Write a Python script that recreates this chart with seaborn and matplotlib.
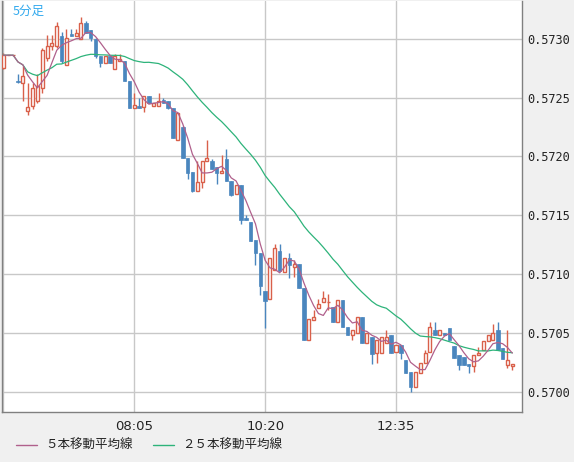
import numpy as np
import pandas as pd
import matplotlib
matplotlib.use("Agg")
import matplotlib.pyplot as plt
import seaborn as sns
from matplotlib.lines import Line2D

opens = [.57275,.57286,.57286,.57264,.57262,.57239,.57243,.57247,.57258,.57284,
         .57294,.57294,.57302,.57278,.57304,.57302,.57300,.57313,.57307,.57300,
         .57285,.57279,.57285,.57274,.57281,.57281,.57264,.57241,.57243,.57242,
         .57251,.57243,.57243,.57248,.57247,.57241,.57214,.57225,.57199,.57187,
         .57171,.57178,.57196,.57196,.57191,.57186,.57198,.57179,.57168,.57176,
         .57148,.57144,.57129,.57118,.57086,.57079,.57104,.57120,.57102,.57114,
         .57106,.57109,.57088,.57044,.57061,.57071,.57076,.57076,.57072,.57059,
         .57078,.57055,.57048,.57050,.57064,.57042,.57047,.57033,.57033,.57042,
         .57048,.57034,.57040,.57027,.57017,.57004,.57016,.57025,.57034,.57053,
         .57048,.57050,.57054,.57039,.57031,.57030,.57024,.57022,.57031,.57036,
         .57043,.57044,.57053,.57037,.57023,.57022]
closes = [.57286,.57286,.57286,.57263,.57268,.57242,.57258,.57260,.57290,.57294,
          .57296,.57311,.57281,.57301,.57302,.57305,.57313,.57305,.57301,.57285,
          .57279,.57285,.57279,.57285,.57283,.57264,.57241,.57244,.57241,.57251,
          .57245,.57245,.57247,.57245,.57241,.57216,.57237,.57199,.57186,.57171,
          .57178,.57196,.57199,.57189,.57186,.57188,.57179,.57167,.57176,.57146,
          .57146,.57128,.57118,.57090,.57077,.57114,.57122,.57103,.57114,.57108,
          .57109,.57088,.57044,.57062,.57064,.57075,.57080,.57076,.57059,.57078,
          .57055,.57048,.57053,.57064,.57042,.57050,.57032,.57044,.57047,.57047,
          .57033,.57040,.57033,.57016,.57004,.57017,.57025,.57033,.57055,.57048,
          .57053,.57048,.57044,.57029,.57023,.57023,.57022,.57031,.57033,.57043,
          .57048,.57050,.57036,.57028,.57027,.57024]
highs = [.57288,.57286,.57286,.57270,.57277,.57262,.57262,.57270,.57292,.57303,
         .57303,.57314,.57306,.57308,.57308,.57308,.57318,.57315,.57307,.57301,
         .57285,.57285,.57285,.57287,.57287,.57281,.57264,.57254,.57250,.57251,
         .57251,.57245,.57254,.57250,.57247,.57241,.57237,.57226,.57199,.57187,
         .57196,.57196,.57214,.57198,.57191,.57201,.57206,.57179,.57176,.57176,
         .57150,.57144,.57129,.57118,.57086,.57114,.57126,.57126,.57114,.57118,
         .57112,.57109,.57088,.57062,.57070,.57079,.57086,.57083,.57072,.57078,
         .57078,.57055,.57053,.57064,.57064,.57050,.57047,.57044,.57047,.57053,
         .57048,.57040,.57040,.57027,.57017,.57017,.57025,.57036,.57059,.57059,
         .57053,.57050,.57054,.57039,.57031,.57030,.57024,.57031,.57038,.57043,
         .57048,.57058,.57059,.57037,.57053,.57024]
lows = [.57274,.57286,.57286,.57262,.57247,.57235,.57240,.57245,.57254,.57281,
        .57290,.57292,.57279,.57278,.57302,.57302,.57300,.57305,.57298,.57284,
        .57276,.57279,.57279,.57274,.57281,.57264,.57241,.57241,.57241,.57238,
        .57245,.57243,.57243,.57245,.57240,.57216,.57214,.57199,.57181,.57170,
        .57171,.57173,.57196,.57189,.57177,.57186,.57179,.57166,.57168,.57143,
        .57146,.57128,.57108,.57082,.57054,.57079,.57104,.57103,.57102,.57097,
        .57098,.57088,.57044,.57044,.57061,.57071,.57076,.57070,.57059,.57059,
        .57055,.57048,.57044,.57050,.57042,.57042,.57024,.57025,.57033,.57042,
        .57033,.57034,.57028,.57016,.57000,.57004,.57016,.57025,.57034,.57048,
        .57048,.57048,.57044,.57029,.57019,.57023,.57016,.57017,.57031,.57036,
        .57043,.57044,.57036,.57028,.57020,.57019]
tick_idx = [27, 54, 81]
tick_labels = ["08:05", "10:20", "12:35"]
ytick_vals = [0.5700, 0.5705, 0.5710, 0.5715, 0.5720, 0.5725, 0.5730]

RED = "#d9604a"
BLUE = "#4a86be"
MA5C = "#b0608c"
MA25C = "#2db37a"

df = pd.DataFrame({"open": opens, "close": closes, "high": highs, "low": lows})
df["i"] = np.arange(len(df))
df["ma5"] = df["close"].rolling(5, min_periods=1).mean()
df["ma25"] = df["close"].rolling(25, min_periods=1).mean()

sns.set_style("white")
plt.rcParams['font.family'] = ['Noto Sans CJK JP', 'DejaVu Sans']

fig = plt.figure(figsize=(5.74, 4.62), dpi=100, facecolor="#f0f0f0")
ax = fig.add_axes([2/574, 1-412/462, 520/574, 411/462])
ax.set_facecolor("white")

for x in [0] + tick_idx:
    ax.axvline(x, color="#c8c8c8", lw=1, zorder=0)
for yv in ytick_vals:
    ax.axhline(yv, color="#c8c8c8", lw=1, zorder=0)

for _, r in df.iterrows():
    col = RED if r["close"] >= r["open"] else BLUE
    ax.vlines(r["i"], r["low"], r["high"], color=col, lw=1, zorder=2)
    lo = min(r["open"], r["close"])
    h = abs(r["close"] - r["open"])
    if r["close"] >= r["open"]:
        ax.bar(r["i"], max(h, 1e-7), bottom=lo, width=0.62, facecolor="white",
               edgecolor=RED, lw=1, zorder=3)
    else:
        ax.bar(r["i"], max(h, 1e-7), bottom=lo, width=0.72, color=BLUE,
               edgecolor=BLUE, lw=0.5, zorder=3)

sns.lineplot(data=df, x="i", y="ma25", ax=ax, color=MA25C, lw=0.9, zorder=4)
sns.lineplot(data=df, x="i", y="ma5", ax=ax, color=MA5C, lw=0.9, zorder=5)

ax.set_xlim(-0.3, 107.0)
ax.set_ylim(0.56983, 0.57332)
ax.set_xticks([])
ax.yaxis.tick_right()
ax.set_yticks(ytick_vals)
ax.set_yticklabels([f"{v:.4f}" for v in ytick_vals], family="DejaVu Sans Mono",
                   fontsize=8.6, color="#222222")
ax.tick_params(axis="y", length=0, pad=4)
ax.set_xlabel(""); ax.set_ylabel("")
for s in ax.spines.values():
    s.set_color("#808080"); s.set_linewidth(1)
ax.spines["top"].set_visible(False)

for idx, lab in zip(tick_idx, tick_labels):
    xf = ax.transData.transform((idx, 0))[0] / fig.bbox.width
    fig.text(xf, 1-426/462, lab, ha="center", va="center", fontsize=9.5,
             family="DejaVu Sans", color="#222222")

ax.text(0.02, 0.99, "5分足", transform=ax.transAxes, ha="left", va="top",
        fontsize=9, color="#33aaee")

fig.add_artist(Line2D([16/574, 37/574], [1-445/462]*2, color=MA5C, lw=1))
fig.text(45/574, 1-445/462, "５本移動平均線", va="center", fontsize=9, color="#222222")
fig.add_artist(Line2D([153/574, 174/574], [1-445/462]*2, color=MA25C, lw=1))
fig.text(182/574, 1-445/462, "２５本移動平均線", va="center", fontsize=9, color="#222222")

fig.savefig("out.png", dpi=100, facecolor=fig.get_facecolor())
